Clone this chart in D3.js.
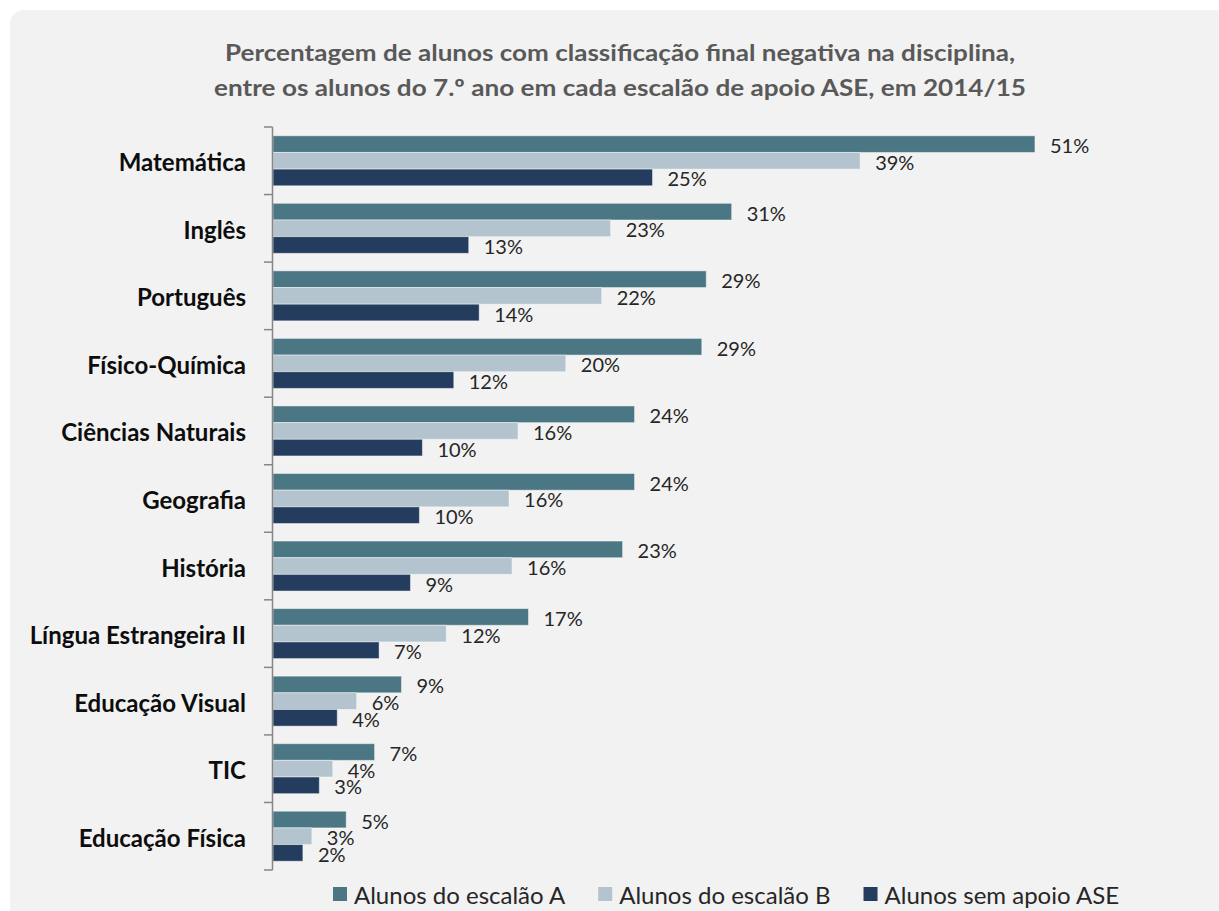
<!DOCTYPE html>
<html lang="pt">
  <head>
    <meta charset="UTF-8" />
    <title>Classificação final negativa por escalão ASE</title>
    <style>
      body {
        margin: 0;
        background-color: #ffffff;
      }
      svg {
        display: block;
        font-family: Lato, "Open Sans", sans-serif;
      }
      .title {
        font-size: 23px;
        font-weight: bold;
        fill: #595959;
      }
      .cat-label {
        font-size: 24px;
        font-weight: bold;
        fill: #0d0d0d;
      }
      .value-label {
        font-size: 20px;
        fill: #262626;
      }
      .legend-label {
        font-size: 24px;
        fill: #262626;
      }
    </style>
  </head>
  <body>
    <svg width="1219" height="911"></svg>
    <script src="https://d3js.org/d3.v7.min.js"></script>
    <script>
      const titleLines = [
        "Percentagem de alunos com classificação final negativa na disciplina,",
        "entre os alunos do 7.º ano em cada escalão de apoio ASE, em 2014/15",
      ];
      const titleWidths = [790, 812];

      const categories = [
        "Matemática",
        "Inglês",
        "Português",
        "Físico-Química",
        "Ciências Naturais",
        "Geografia",
        "História",
        "Língua Estrangeira II",
        "Educação Visual",
        "TIC",
        "Educação Física",
      ];

      const seriesNames = [
        "Alunos do escalão A",
        "Alunos do escalão B",
        "Alunos sem apoio ASE",
      ];
      const seriesColors = ["#4b7683", "#b3c4ce", "#243c5d"];

      // percentages
      const escalaoA = [51.0, 30.7, 29.0, 28.7, 24.2, 24.2, 23.4, 17.1, 8.6, 6.8, 4.9];
      const escalaoB = [39.3, 22.6, 22.0, 19.6, 16.4, 15.8, 16.0, 11.6, 5.6, 4.0, 2.6];
      const semApoio = [25.4, 13.1, 13.8, 12.1, 10.0, 9.8, 9.2, 7.1, 4.3, 3.1, 2.0];

      const seriesValues = [escalaoA, escalaoB, semApoio];

      const svg = d3.select("svg");
      const width = 1219,
        height = 911;

      // panel background
      svg
        .append("rect")
        .attr("x", 10)
        .attr("y", 10)
        .attr("width", width + 10)
        .attr("height", height + 10)
        .attr("rx", 14)
        .attr("fill", "#f2f2f2");

      // title
      svg
        .append("g")
        .selectAll("text")
        .data(titleLines)
        .join("text")
        .attr("class", "title")
        .attr("x", 620)
        .attr("y", (d, i) => 61 + i * 35)
        .attr("text-anchor", "middle")
        .attr("textLength", (d, i) => titleWidths[i])
        .attr("lengthAdjust", "spacingAndGlyphs")
        .text((d) => d);

      const plot = { left: 273, top: 127, bottom: 870 };

      const x = d3
        .scaleLinear()
        .domain([0, 60])
        .range([plot.left, plot.left + 60 * 14.94]);

      const y = d3
        .scaleBand()
        .domain(categories)
        .range([plot.top, plot.bottom])
        .paddingInner(0.26)
        .paddingOuter(0.13);

      const ySub = d3
        .scaleBand()
        .domain(d3.range(seriesNames.length))
        .range([0, y.bandwidth()]);

      const rows = categories.map((c, i) => ({
        category: c,
        values: seriesValues.map((s, k) => ({ k: k, value: s[i] })),
      }));

      const groups = svg
        .append("g")
        .selectAll("g")
        .data(rows)
        .join("g")
        .attr("transform", (d) => `translate(0,${y(d.category)})`);

      groups
        .selectAll("rect")
        .data((d) => d.values)
        .join("rect")
        .attr("x", x(0))
        .attr("y", (d) => ySub(d.k))
        .attr("width", (d) => x(d.value) - x(0))
        .attr("height", ySub.bandwidth())
        .attr("fill", (d) => seriesColors[d.k])
        .attr("stroke", "#ffffff")
        .attr("stroke-opacity", 0.45)
        .attr("stroke-width", 1);

      groups
        .selectAll("text")
        .data((d) => d.values)
        .join("text")
        .attr("class", "value-label")
        .attr("x", (d) => x(d.value) + 15)
        .attr("y", (d) => ySub(d.k) + ySub.bandwidth() / 2 + 1)
        .attr("dominant-baseline", "central")
        .text((d) => Math.round(d.value) + "%");

      // category axis
      const step = y.step();
      const axis = svg.append("g").attr("stroke", "#868686").attr("stroke-width", 1.5);
      axis
        .append("line")
        .attr("x1", plot.left - 0.5)
        .attr("x2", plot.left - 0.5)
        .attr("y1", plot.top)
        .attr("y2", plot.bottom);
      axis
        .selectAll("line.tick")
        .data(d3.range(categories.length + 1))
        .join("line")
        .attr("class", "tick")
        .attr("x1", plot.left - 9)
        .attr("x2", plot.left - 0.5)
        .attr("y1", (i) => plot.top + i * step)
        .attr("y2", (i) => plot.top + i * step);

      svg
        .append("g")
        .selectAll("text")
        .data(categories)
        .join("text")
        .attr("class", "cat-label")
        .attr("x", 246)
        .attr("y", (d) => y(d) + y.bandwidth() / 2 + 1)
        .attr("text-anchor", "end")
        .attr("dominant-baseline", "central")
        .text((d) => d);

      // legend
      const legend = svg.append("g").attr("transform", "translate(333,894)");
      let lx = 0;
      seriesNames.forEach((name, k) => {
        legend
          .append("rect")
          .attr("x", lx)
          .attr("y", -7)
          .attr("width", 14)
          .attr("height", 14)
          .attr("fill", seriesColors[k]);
        const t = legend
          .append("text")
          .attr("class", "legend-label")
          .attr("x", lx + 21)
          .attr("y", 0)
          .attr("dominant-baseline", "central")
          .text(name);
        lx += 21 + t.node().getComputedTextLength() + 33;
      });
    </script>
  </body>
</html>
